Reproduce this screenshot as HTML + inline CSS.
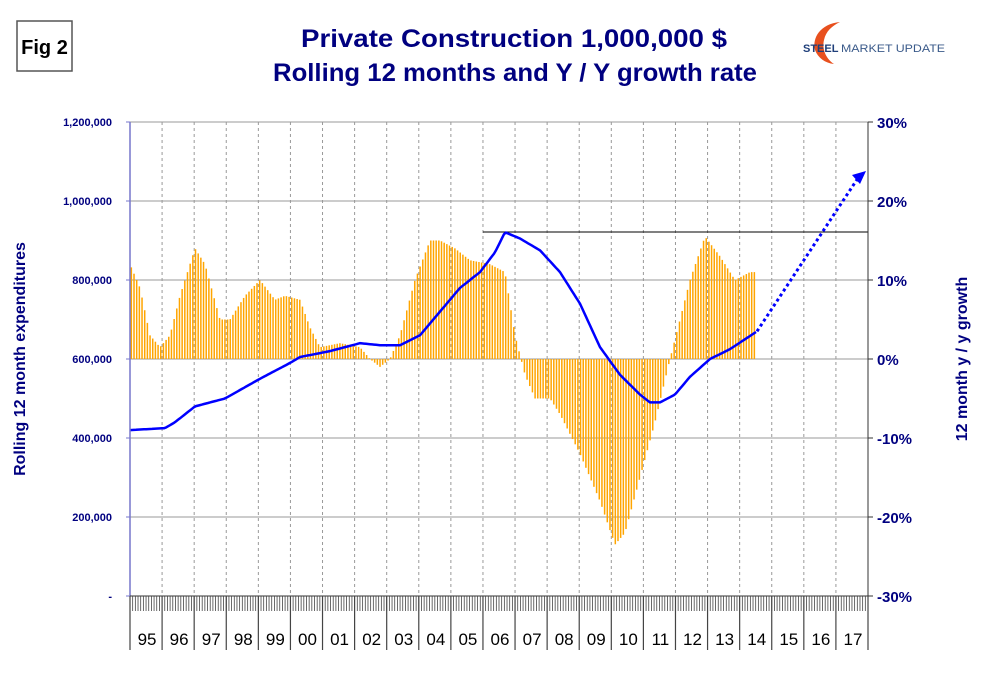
<!DOCTYPE html>
<html><head><meta charset="utf-8"><style>
body{margin:0;background:#fff;}
svg text{font-family:"Liberation Sans",Arial,sans-serif;}
</style></head><body>
<svg id="s" width="983" height="672" xmlns="http://www.w3.org/2000/svg">
<rect width="983" height="672" fill="#fff"/>
<rect x="17" y="21" width="55" height="50" fill="#fff" stroke="#555" stroke-width="1.5"/>
<text x="44.5" y="54" font-size="20" font-weight="bold" text-anchor="middle" fill="#000">Fig 2</text>
<text x="301" y="47" font-size="25" font-weight="bold" fill="#000080" textLength="426" lengthAdjust="spacingAndGlyphs">Private Construction 1,000,000 $</text>
<text x="273" y="81" font-size="25" font-weight="bold" fill="#000080" textLength="484" lengthAdjust="spacingAndGlyphs">Rolling 12 months and Y / Y growth rate</text>
<path d="M840 22 C820 24 812 38 815 50 C818 58 825 63 834 64 C825 58 822 48 824 40 C826 31 832 26 840 22Z" fill="#e8501e"/>
<text x="803" y="52" font-size="11" font-weight="bold" fill="#1f3f7a">STEEL</text>
<text x="841" y="52" font-size="11" fill="#3a5a8a" textLength="104" lengthAdjust="spacingAndGlyphs">MARKET UPDATE</text>
<g id="grid"></g>
<g id="bars"></g>
<g id="axes"></g>
<text transform="translate(25,359) rotate(-90)" font-size="16" font-weight="bold" text-anchor="middle" fill="#000080">Rolling 12 month expenditures</text>
<text transform="translate(967,359) rotate(-90)" font-size="16" font-weight="bold" text-anchor="middle" fill="#000080">12 month y / y growth</text>
</svg>
<script>
const NS="http://www.w3.org/2000/svg";
function el(p,t,a,txt){const e=document.createElementNS(NS,t);for(const k in a)e.setAttribute(k,a[k]);if(txt!==undefined)e.textContent=txt;document.getElementById(p).appendChild(e);return e;}
const X0=130,X1=868,Y0=596,YT=122,PY=(X1-X0)/23;
for(let i=1;i<=6;i++){const y=Y0-i*79;el('grid','line',{x1:X0,x2:X1,y1:y,y2:y,stroke:'#999','stroke-width':1});}
for(let i=1;i<23;i++){const x=X0+i*PY;el('grid','line',{x1:x,x2:x,y1:YT,y2:Y0,stroke:'#999','stroke-width':1,'stroke-dasharray':'3,3'});}
function interp(pts,x){for(let i=0;i<pts.length-1;i++){if(x>=pts[i][0]&&x<=pts[i+1][0]){const t=(x-pts[i][0])/(pts[i+1][0]-pts[i][0]);return pts[i][1]+t*(pts[i+1][1]-pts[i][1]);}}return pts[pts.length-1][1];}
const g=[[130,12],[140,9],[150,3],[160,1.5],[170,3],[180,8],[195,14],[205,12],[220,5],[230,5],[245,8],[260,10],[275,7.5],[285,8],[300,7.5],[310,4],[320,1.5],[340,2],[360,1.5],[370,0],[380,-1],[390,0],[400,3],[415,10],[430,15],[440,15],[455,14],[470,12.5],[490,12],[505,11],[515,3],[525,-2],[535,-5],[550,-5],[560,-7],[580,-12],[600,-18],[615,-23.5],[625,-22],[640,-15],[655,-8],[670,0],[690,10],[705,15.5],[720,13],[735,10],[750,11],[757,11]];
const mw=PY/12;
for(let m=0;m<234;m++){const x=X0+(m+0.5)*mw;const v=interp(g,x);const y=359-v*7.9;el('bars','rect',{x:x-0.75,width:1.5,y:Math.min(y,359),height:Math.abs(y-359),fill:'#FFA500'});}
el('axes','line',{x1:483,x2:X1,y1:232,y2:232,stroke:'#000','stroke-width':1});
const b=[[130,420],[165,425],[175,440],[195,480],[225,500],[260,550],[290,590],[300,605],[330,620],[360,640],[380,635],[400,635],[420,660],[440,720],[460,780],[480,820],[495,870],[505,921],[520,905],[540,875],[560,820],[580,740],[600,630],[620,560],[640,510],[650,490],[660,490],[675,510],[690,555],[710,600],[730,625],[757,670]];
let d='';for(let x=130;x<=757;x+=2){const v=interp(b,x);d+=(d?'L':'M')+x+' '+(Y0-v/200*79).toFixed(1);}
el('axes','path',{d:d,fill:'none',stroke:'#0000ff','stroke-width':2.5});
const ye=Y0-670/200*79;
el('axes','line',{x1:757,y1:ye,x2:858,y2:178,stroke:'#0000ff','stroke-width':3,'stroke-dasharray':'3,3'});
el('axes','path',{d:'M866 171 L852 175 L860 184Z',fill:'#0000ff'});
el('axes','line',{x1:X0,x2:X0,y1:YT,y2:Y0,stroke:'#7777cc','stroke-width':1.5});
el('axes','line',{x1:X1,x2:X1,y1:YT,y2:Y0,stroke:'#333','stroke-width':1});
el('axes','line',{x1:X0-4,x2:X1,y1:Y0,y2:Y0,stroke:'#333','stroke-width':1});
const L=['-','200,000','400,000','600,000','800,000','1,000,000','1,200,000'];
for(let i=0;i<=6;i++){const y=Y0-i*79;el('axes','text',{x:112,y:y+4,'font-size':11,'font-weight':'bold','text-anchor':'end',fill:'#000080'},L[i]);
el('axes','line',{x1:X0-4,x2:X0,y1:y,y2:y,stroke:'#7777cc'});el('axes','line',{x1:X1,x2:X1+5,y1:y,y2:y,stroke:'#333'});
el('axes','text',{x:877,y:y+6,'font-size':15,'font-weight':'bold',fill:'#000080'},(i*10-30)+'%');}
for(let m=0;m<=276;m++){const x=X0+m*mw;el('axes','line',{x1:x,x2:x,y1:Y0,y2:Y0+15,stroke:'#444','stroke-width':0.8});}
const yrs=['95','96','97','98','99','00','01','02','03','04','05','06','07','08','09','10','11','12','13','14','15','16','17'];
for(let i=0;i<=23;i++){const x=X0+i*PY;el('axes','line',{x1:x,x2:x,y1:Y0,y2:650,stroke:'#444','stroke-width':1.2});
if(i<23)el('axes','text',{x:x+PY/2+1,y:645,'font-size':17,'text-anchor':'middle',fill:'#000'},yrs[i]);}
</script>
</body></html>
